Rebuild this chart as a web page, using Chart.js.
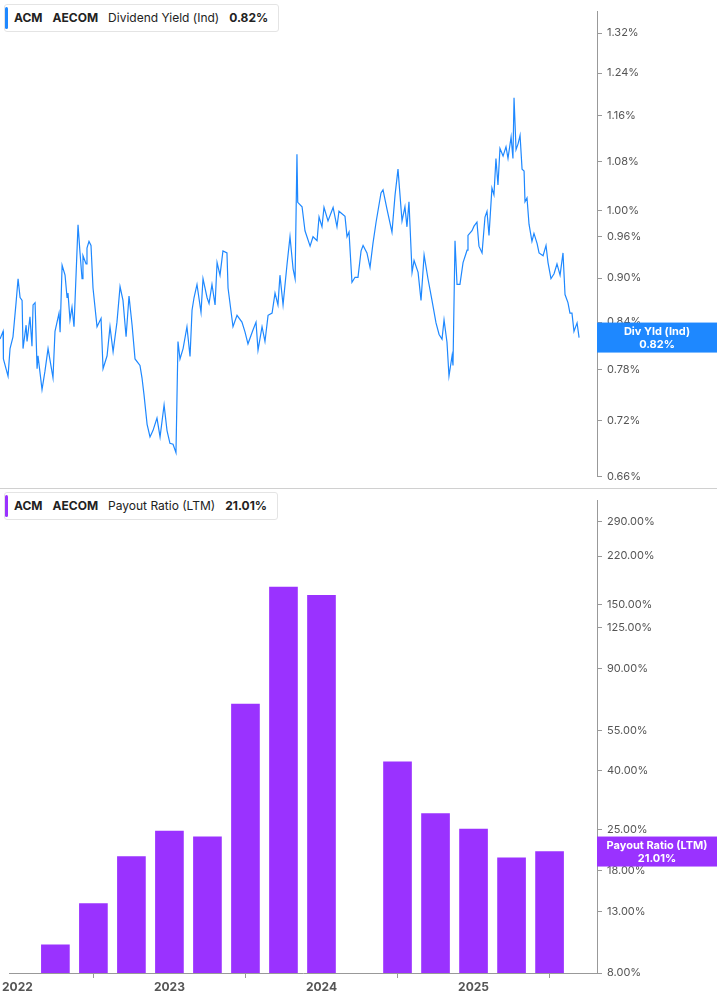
<!DOCTYPE html>
<html>
<head>
<meta charset="utf-8">
<script src="https://cdn.jsdelivr.net/npm/chart.js@4"></script>
<style>
  body { margin: 0; background: #fff; font-family: Inter, "Noto Sans", sans-serif; }
  #wrap { position: relative; width: 717px; height: 1005px; }
  .pane { position: absolute; left: 0; width: 717px; }
  #top { top: 0; height: 488px; border-bottom: 1px solid #d0d0d0; }
  #bot { top: 489px; height: 516px; }
  .legend { position: absolute; left: 4px; background: #fff; border: 1px solid #e4e4e4; border-radius: 3px;
            font-size: 12px; color: #222; height: 26px; line-height: 26px; padding: 0 10px 0 9px; white-space: nowrap; z-index: 2; }
  .legend .bar { position: absolute; left: 0; top: 2px; bottom: 2px; width: 3px; border-radius: 2px; }
  .legend b { font-weight: 700; margin-right: 10px; }
  .legend span { margin-right: 10px; }
</style>
</head>
<body>
<div id="wrap">
  <div class="pane" id="top"><canvas id="yieldChart" width="717" height="488"></canvas></div>
  <div class="pane" id="bot"><canvas id="payoutChart" width="717" height="516"></canvas></div>
  <div class="legend" style="top:4px"><div class="bar" style="background:#1e88ff"></div><b>ACM</b><b>AECOM</b><span>Dividend Yield (Ind)</span><b style="margin-right:0">0.82%</b></div>
  <div class="legend" style="top:492px"><div class="bar" style="background:#9a32ff"></div><b>ACM</b><b>AECOM</b><span>Payout Ratio (LTM)</span><b style="margin-right:0">21.01%</b></div>
</div>
<script>
// dividend yield (%), dates as decimal years
const yieldDates = [
  2021.948, 2021.968, 2021.970, 2022.000, 2022.013, 2022.032, 2022.052, 2022.065, 2022.078, 2022.091,
  2022.097, 2022.117, 2022.123, 2022.142, 2022.155, 2022.162, 2022.175, 2022.188, 2022.194, 2022.220,
  2022.239, 2022.259, 2022.291, 2022.304, 2022.330, 2022.337, 2022.350, 2022.369, 2022.382, 2022.388,
  2022.401, 2022.414, 2022.427, 2022.453, 2022.466, 2022.479, 2022.485, 2022.505, 2022.511, 2022.524,
  2022.537, 2022.550, 2022.576, 2022.602, 2022.615, 2022.641, 2022.660, 2022.680, 2022.705, 2022.725,
  2022.744, 2022.764, 2022.783, 2022.803, 2022.822, 2022.854, 2022.867, 2022.880, 2022.900, 2022.919,
  2022.938, 2022.964, 2022.984, 2023.010, 2023.029, 2023.048, 2023.068, 2023.087, 2023.100, 2023.113,
  2023.133, 2023.158, 2023.178, 2023.191, 2023.204, 2023.223, 2023.249, 2023.262, 2023.288, 2023.301,
  2023.320, 2023.340, 2023.353, 2023.372, 2023.391, 2023.417, 2023.424, 2023.456, 2023.482, 2023.514,
  2023.534, 2023.553, 2023.586, 2023.605, 2023.618, 2023.644, 2023.663, 2023.683, 2023.709, 2023.728,
  2023.747, 2023.760, 2023.780, 2023.806, 2023.825, 2023.845, 2023.858, 2023.870, 2023.875, 2023.903,
  2023.922, 2023.955, 2023.974, 2024.000, 2024.013, 2024.032, 2024.045, 2024.071, 2024.104, 2024.129,
  2024.142, 2024.181, 2024.194, 2024.207, 2024.226, 2024.246, 2024.265, 2024.285, 2024.298, 2024.323,
  2024.343, 2024.362, 2024.382, 2024.414, 2024.427, 2024.453, 2024.485, 2024.505, 2024.524, 2024.550,
  2024.569, 2024.582, 2024.595, 2024.615, 2024.628, 2024.654, 2024.673, 2024.693, 2024.718, 2024.744,
  2024.770, 2024.790, 2024.809, 2024.822, 2024.841, 2024.854, 2024.874, 2024.880, 2024.893, 2024.906,
  2024.925, 2024.945, 2024.971, 2024.977, 2025.003, 2025.016, 2025.035, 2025.048, 2025.068, 2025.087,
  2025.100, 2025.113, 2025.132, 2025.145, 2025.158, 2025.171, 2025.184, 2025.204, 2025.223, 2025.236,
  2025.256, 2025.268, 2025.275, 2025.288, 2025.301, 2025.314, 2025.327, 2025.340, 2025.346, 2025.359,
  2025.372, 2025.391, 2025.404, 2025.424, 2025.437, 2025.463, 2025.482, 2025.495, 2025.514, 2025.534,
  2025.553, 2025.573, 2025.592, 2025.605, 2025.624, 2025.637, 2025.650, 2025.663, 2025.683, 2025.696
];
const yieldValues = [
  0.818, 0.828, 0.793, 0.772, 0.806, 0.821, 0.866, 0.899, 0.873, 0.869,
  0.806, 0.836, 0.815, 0.847, 0.809, 0.863, 0.866, 0.781, 0.797, 0.756,
  0.778, 0.806, 0.770, 0.828, 0.852, 0.827, 0.918, 0.904, 0.873, 0.879,
  0.843, 0.860, 0.834, 0.978, 0.936, 0.899, 0.932, 0.920, 0.943, 0.953,
  0.947, 0.886, 0.834, 0.845, 0.781, 0.797, 0.834, 0.802, 0.840, 0.888,
  0.869, 0.821, 0.875, 0.836, 0.793, 0.785, 0.770, 0.750, 0.716, 0.702,
  0.709, 0.723, 0.702, 0.738, 0.709, 0.695, 0.694, 0.685, 0.815, 0.793,
  0.806, 0.834, 0.796, 0.856, 0.873, 0.891, 0.853, 0.899, 0.873, 0.865,
  0.891, 0.863, 0.922, 0.904, 0.939, 0.936, 0.886, 0.834, 0.849, 0.840,
  0.827, 0.812, 0.830, 0.840, 0.804, 0.834, 0.815, 0.849, 0.852, 0.879,
  0.863, 0.904, 0.863, 0.920, 0.960, 0.913, 0.899, 1.092, 1.013, 1.006,
  0.969, 0.946, 0.960, 0.954, 0.990, 0.975, 1.005, 0.984, 1.005, 0.975,
  0.999, 0.991, 0.960, 0.967, 0.894, 0.901, 0.901, 0.939, 0.947, 0.936,
  0.915, 0.950, 0.982, 1.028, 1.033, 1.002, 0.967, 1.025, 1.067, 0.984,
  1.006, 0.975, 1.014, 0.908, 0.925, 0.908, 0.869, 0.933, 0.899, 0.869,
  0.839, 0.824, 0.818, 0.843, 0.814, 0.772, 0.797, 0.785, 0.954, 0.891,
  0.891, 0.922, 0.940, 0.962, 0.969, 0.976, 0.982, 0.946, 0.936, 0.990,
  0.999, 0.962, 1.036, 1.025, 1.085, 1.041, 1.102, 1.089, 1.105, 1.085,
  1.122, 1.085, 1.193, 1.100, 1.110, 1.125, 1.067, 1.064, 1.014, 1.020,
  0.979, 0.953, 0.965, 0.950, 0.936, 0.932, 0.947, 0.922, 0.899, 0.906,
  0.920, 0.904, 0.936, 0.877, 0.866, 0.852, 0.852, 0.828, 0.839, 0.820
];
const yieldTicks = [0.66, 0.72, 0.78, 0.84, 0.90, 0.96, 1.00, 1.08, 1.16, 1.24, 1.32];

// payout ratio (%), quarter ends
const payoutDates = [2022.25, 2022.5, 2022.75, 2023.0, 2023.25, 2023.5, 2023.75, 2024.0, 2024.25, 2024.5, 2024.75, 2025.0, 2025.25, 2025.5];
const payoutValues = [10.0, 13.9, 20.2, 24.7, 23.6, 67.8, 172, 161, null, 42.9, 28.4, 25.1, 20.0, 21.01];
const payoutTicks = [8, 13, 18, 25, 40, 55, 90, 125, 150, 220, 290];
const yearTicks = [2022, 2023, 2024, 2025];

const X_MIN = 2021.948, X_MAX = 2025.812;
const BLUE = '#1e88ff', PURPLE = '#9a32ff';
Chart.defaults.font.family = 'Inter, "Noto Sans", sans-serif';
Chart.defaults.color = '#555';

function tagPlugin(color, title, value, last) {
  return {
    id: 'tag',
    afterDraw(chart) {
      const ctx = chart.ctx, y = chart.scales.y.getPixelForValue(last);
      const x0 = chart.chartArea.right;
      ctx.save();
      ctx.fillStyle = color;
      ctx.fillRect(x0, y - 15, chart.width - x0, 30);
      ctx.fillStyle = '#fff';
      ctx.font = 'bold 11px Inter, "Noto Sans", sans-serif';
      ctx.textAlign = 'center';
      ctx.textBaseline = 'middle';
      const cx = (x0 + chart.width) / 2;
      ctx.fillText(title, cx, y - 6);
      ctx.fillText(value, cx, y + 7);
      ctx.restore();
    }
  };
}

function yAxis(min, max, ticks, fmt) {
  return {
    type: 'logarithmic', position: 'right', min: min, max: max,
    grid: { display: true, drawOnChartArea: false, tickLength: 5, color: '#999' },
    border: { display: true, color: '#999' },
    afterBuildTicks: s => { s.ticks = ticks.map(v => ({ value: v })); },
    afterFit: s => { s.width = 120; },
    ticks: { callback: v => fmt(v), font: { size: 11 }, color: '#555', padding: 5, autoSkip: false }
  };
}

new Chart(document.getElementById('yieldChart'), {
  type: 'line',
  data: {
    datasets: [{
      data: yieldDates.map((d, i) => ({ x: d, y: yieldValues[i] })),
      borderColor: BLUE, borderWidth: 1.2, pointRadius: 0, tension: 0
    }]
  },
  options: {
    responsive: false, animation: false,
    layout: { padding: 0 },
    plugins: { legend: { display: false }, tooltip: { enabled: false } },
    scales: {
      x: { type: 'linear', min: X_MIN, max: X_MAX, display: false },
      y: yAxis(0.66, 1.365, yieldTicks, v => v.toFixed(2) + '%')
    }
  },
  plugins: [tagPlugin(BLUE, 'Div Yld (Ind)', '0.82%', 0.82)]
});

new Chart(document.getElementById('payoutChart'), {
  type: 'bar',
  data: {
    datasets: [{
      data: payoutDates.map((d, i) => ({ x: d, y: payoutValues[i] })),
      backgroundColor: PURPLE, barThickness: 28
    }]
  },
  options: {
    responsive: false, animation: false,
    layout: { padding: 0 },
    plugins: { legend: { display: false }, tooltip: { enabled: false } },
    scales: {
      x: {
        type: 'linear', min: X_MIN, max: X_MAX, offset: false,
        grid: { display: true, drawOnChartArea: false, tickLength: 5, color: '#999' },
        border: { display: true, color: '#999' },
        afterBuildTicks: s => { s.ticks = yearTicks.map(v => ({ value: v })); },
        afterFit: s => { s.height = 32; },
        ticks: { callback: v => String(v), font: { size: 12, weight: 'bold' }, color: '#555', maxRotation: 0, padding: 2 }
      },
      y: yAxis(8, 342, payoutTicks, v => v.toFixed(2) + '%')
    }
  },
  plugins: [tagPlugin(PURPLE, 'Payout Ratio (LTM)', '21.01%', 21.01)]
});
</script>
</body>
</html>
